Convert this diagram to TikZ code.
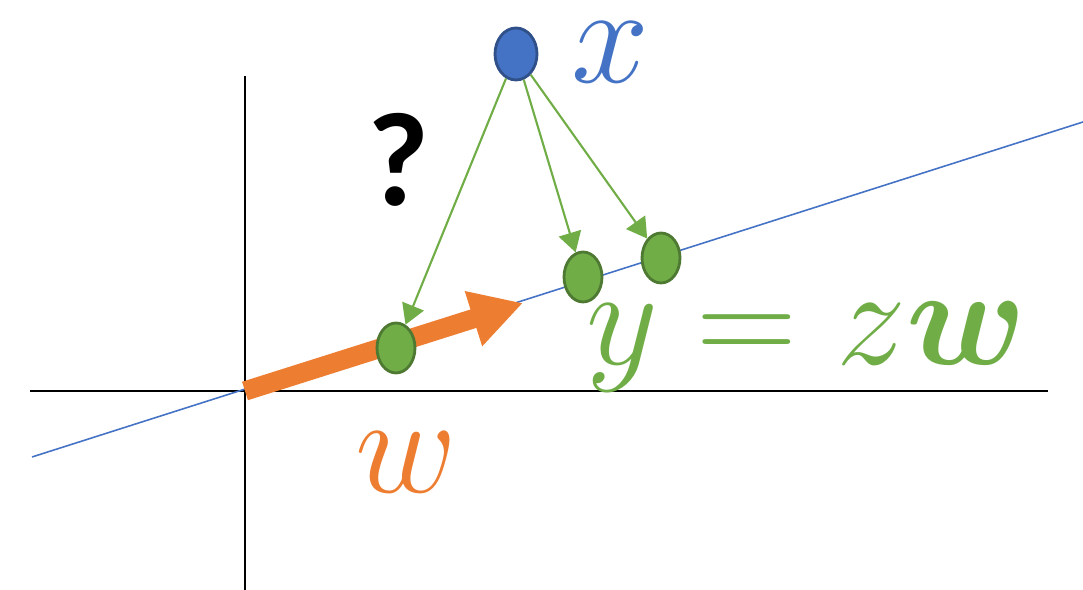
\documentclass[tikz,border=0pt]{standalone}
\usepackage{bm}
\usepackage{fontspec}
\newfontfamily\qfont{Carlito}
\usetikzlibrary{arrows.meta,shapes.geometric}

\definecolor{pblue}{HTML}{4472C4}
\definecolor{pgreen}{HTML}{70AD47}
\definecolor{porange}{HTML}{ED7D31}

\begin{document}
\begin{tikzpicture}[
  pointnode/.style={ellipse, fill=#1, draw=#1!70!black, line width=0.8pt,
    minimum width=0.38cm, minimum height=0.5cm, inner sep=0pt},
  proj/.style={draw=pgreen, line width=0.6pt, -{Triangle[length=2mm,width=2.3mm]}},
  biglabel/.style={font=\Huge, scale=1.6, transform shape, inner sep=0pt}
]
\useasboundingbox (0,0) rectangle (10.83,5.90);

% axes
\coordinate (O) at (2.45,1.99);
\draw[line width=0.6pt] (0.30,1.99) -- (10.48,1.99);
\draw[line width=0.6pt] (2.45,0) -- (2.45,5.14);

% line spanned by w
\draw[pblue, line width=0.45pt] (0.32,1.33) -- (10.83,4.68);

% vector w
\coordinate (wtip) at (5.23,2.87);
\draw[porange, line width=5.5pt, -{Triangle[length=5.2mm,width=5.4mm]}] (O) -- (wtip);

% points
\node[pointnode=pblue, minimum width=0.42cm, minimum height=0.52cm] (xpt) at (5.16,5.36) {};
\node[pointnode=pgreen] (y1) at (3.96,2.42) {};
\node[pointnode=pgreen] (y2) at (5.83,3.13) {};
\node[pointnode=pgreen] (y3) at (6.61,3.32) {};

% candidate projections
\draw[proj] (xpt) -- (y1);
\draw[proj] (xpt) -- (y2);
\draw[proj] (xpt) -- (y3);

% labels
\node[biglabel, text=pblue] (xlab) at (6.10,5.38) {$x$};
\node[font=\qfont\bfseries\fontsize{38}{42}\selectfont] (qlab) at (3.98,4.30) {?};
\node[biglabel, text=porange] (wlab) at (4.06,1.28) {$w$};
\node[biglabel, text=pgreen, anchor=base west] (eqlab) at (5.85,2.25) {$y = z\bm{w}$};
\end{tikzpicture}
\end{document}
